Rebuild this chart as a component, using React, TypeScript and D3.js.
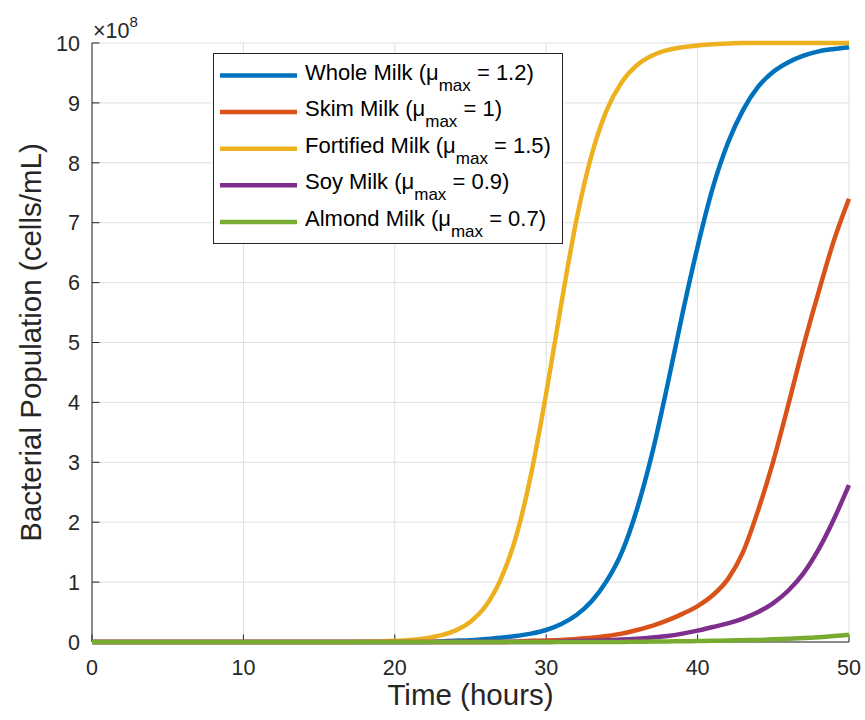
import React from 'react';
import * as d3 from 'd3';

// Sample times (hours) – one sample per hour
const HOURS: number[] = d3.range(0, 51);

// Bacterial population, in units of 1e8 cells/mL (index = hour)
const WHOLE_MILK: number[] = [
  0, 0, 0, 0, 0, 0, 0, 0, 0, 0,
  0, 0, 0, 0, 0, 0, 0, 0, 0, 0,
  0, 0, 0, 0.01, 0.02, 0.03, 0.05, 0.07, 0.1, 0.14,
  0.2, 0.3, 0.45, 0.68, 1.02, 1.5, 2.22, 3.15, 4.28, 5.48,
  6.6, 7.58, 8.33, 8.88, 9.27, 9.52, 9.68, 9.79, 9.86, 9.9,
  9.93,
];
const SKIM_MILK: number[] = [
  0, 0, 0, 0, 0, 0, 0, 0, 0, 0,
  0, 0, 0, 0, 0, 0, 0, 0, 0, 0,
  0, 0, 0, 0, 0, 0, 0, 0, 0.01, 0.02,
  0.025, 0.035, 0.05, 0.07, 0.1, 0.14, 0.2, 0.27, 0.36, 0.47,
  0.6, 0.78, 1.05, 1.5, 2.2, 3.02, 3.97, 4.95, 5.85, 6.7,
  7.4,
];
const FORTIFIED_MILK: number[] = [
  0, 0, 0, 0, 0, 0, 0, 0, 0, 0,
  0, 0, 0, 0, 0, 0, 0, 0, 0.005, 0.01,
  0.02, 0.035, 0.06, 0.11, 0.19, 0.34, 0.6, 1.05, 1.75, 2.8,
  4.15, 5.65, 7.05, 8.13, 8.88, 9.35, 9.63, 9.79, 9.88, 9.93,
  9.96, 9.98, 9.99, 10, 10, 10, 10, 10, 10, 10,
  10,
];
const SOY_MILK: number[] = [
  0, 0, 0, 0, 0, 0, 0, 0, 0, 0,
  0, 0, 0, 0, 0, 0, 0, 0, 0, 0,
  0, 0, 0, 0, 0, 0, 0, 0, 0, 0,
  0, 0.01, 0.015, 0.02, 0.03, 0.04, 0.055, 0.075, 0.1, 0.14,
  0.19, 0.25, 0.31, 0.39, 0.5, 0.65, 0.86, 1.15, 1.55, 2.05,
  2.62,
];
const ALMOND_MILK: number[] = [
  0, 0, 0, 0, 0, 0, 0, 0, 0, 0,
  0, 0, 0, 0, 0, 0, 0, 0, 0, 0,
  0, 0, 0, 0, 0, 0, 0, 0, 0, 0,
  0, 0, 0, 0, 0, 0, 0.005, 0.007, 0.01, 0.012,
  0.015, 0.02, 0.025, 0.03, 0.035, 0.045, 0.055, 0.065, 0.08, 0.1,
  0.12,
];

const SERIES_NAMES: string[] = ['Whole Milk', 'Skim Milk', 'Fortified Milk', 'Soy Milk', 'Almond Milk'];
const MU_MAX: string[] = ['1.2', '1', '1.5', '0.9', '0.7'];
const SERIES_VALUES: number[][] = [WHOLE_MILK, SKIM_MILK, FORTIFIED_MILK, SOY_MILK, ALMOND_MILK];
const COLORS: string[] = ['#0072BD', '#D95319', '#EDB120', '#7E2F8E', '#77AC30'];

const X_TICKS: number[] = [0, 10, 20, 30, 40, 50];
const Y_TICKS: number[] = [0, 1, 2, 3, 4, 5, 6, 7, 8, 9, 10];

const W = 865;
const H = 720;
const LEFT = 92;
const RIGHT = 849;
const TOP = 43;
const BOTTOM = 642;
const FONT = '"Liberation Sans", Arial, Helvetica, sans-serif';
const AXIS_COLOR = '#262626';
const GRID_COLOR = '#dfdfdf';

export default function App() {
  const x = d3.scaleLinear().domain([0, 50]).range([LEFT, RIGHT]);
  const y = d3.scaleLinear().domain([0, 10]).range([BOTTOM, TOP]);

  const line = d3
    .line<number>()
    .x((_, i) => x(HOURS[i]))
    .y((d) => y(d))
    .curve(d3.curveMonotoneX);

  const legendX0 = 213.5;
  const legendY0 = 53.5;
  const legendW = 349;
  const legendH = 190;
  const rowBase = 79.5;
  const rowStep = 36.6;

  return (
    <svg
      width={W}
      height={H}
      viewBox={`0 0 ${W} ${H}`}
      style={{ position: 'absolute', left: 0, top: 0, background: '#fff' }}
      fontFamily={FONT}
    >
      <rect x={0} y={0} width={W} height={H} fill="#fff" />

      {/* grid */}
      <g stroke={GRID_COLOR} strokeWidth={1}>
        {X_TICKS.map((t) => (
          <line key={`gx${t}`} x1={x(t)} x2={x(t)} y1={TOP} y2={BOTTOM} />
        ))}
        {Y_TICKS.map((t) => (
          <line key={`gy${t}`} x1={LEFT} x2={RIGHT} y1={y(t)} y2={y(t)} />
        ))}
      </g>

      {/* axes */}
      <g stroke={AXIS_COLOR} strokeWidth={1}>
        <line x1={LEFT} x2={LEFT} y1={TOP} y2={BOTTOM} />
        <line x1={LEFT} x2={RIGHT} y1={BOTTOM} y2={BOTTOM} />
        {X_TICKS.map((t) => (
          <line key={`tx${t}`} x1={x(t)} x2={x(t)} y1={BOTTOM} y2={BOTTOM - 7.5} />
        ))}
        {Y_TICKS.map((t) => (
          <line key={`ty${t}`} x1={LEFT} x2={LEFT + 7.5} y1={y(t)} y2={y(t)} />
        ))}
      </g>

      {/* tick labels */}
      <g fill={AXIS_COLOR} fontSize={21.5}>
        {X_TICKS.map((t) => (
          <text key={`lx${t}`} x={x(t)} y={675} textAnchor="middle">
            {t}
          </text>
        ))}
        {Y_TICKS.map((t) => (
          <text key={`ly${t}`} x={80} y={y(t) + 7.7} textAnchor="end">
            {t}
          </text>
        ))}
      </g>

      {/* exponent label */}
      <text x={93} y={38} fontSize={21.5} fill={AXIS_COLOR}>
        {'\u00d710'}
        <tspan fontSize={15} dy={-11}>
          8
        </tspan>
      </text>

      {/* axis labels */}
      <text x={(LEFT + RIGHT) / 2} y={705} textAnchor="middle" fontSize={29.5} fill={AXIS_COLOR}>
        Time (hours)
      </text>
      <text
        transform={`translate(41, ${(TOP + BOTTOM) / 2}) rotate(-90)`}
        textAnchor="middle"
        fontSize={29.5}
        fill={AXIS_COLOR}
      >
        Bacterial Population (cells/mL)
      </text>

      {/* series */}
      <g fill="none" strokeWidth={4.5} strokeLinejoin="round">
        {SERIES_VALUES.map((vals, i) => (
          <path key={`s${i}`} d={line(vals) || ''} stroke={COLORS[i]} />
        ))}
      </g>

      {/* legend */}
      <rect
        x={legendX0}
        y={legendY0}
        width={legendW}
        height={legendH}
        fill="#fff"
        stroke={AXIS_COLOR}
        strokeWidth={1}
      />
      {SERIES_NAMES.map((name, i) => {
        const base = rowBase + i * rowStep;
        return (
          <g key={`lg${i}`}>
            <line x1={220} x2={297} y1={base - 4} y2={base - 4} stroke={COLORS[i]} strokeWidth={4.5} />
            <text x={305} y={base} fontSize={22} fill="#000">
              {`${name} (\u03bc`}
              <tspan fontSize={17} dy={11}>
                max
              </tspan>
              <tspan dy={-11}>{` = ${MU_MAX[i]})`}</tspan>
            </text>
          </g>
        );
      })}
    </svg>
  );
}
